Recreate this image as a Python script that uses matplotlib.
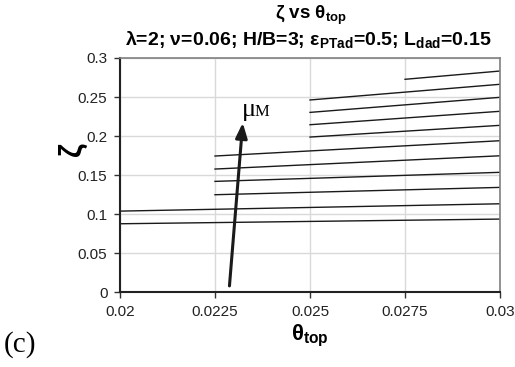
import matplotlib
matplotlib.use("Agg")
import matplotlib.pyplot as plt

# ----------------------------------------------------------------------
# DATA
# ----------------------------------------------------------------------
# each curve: theta_top start/end and zeta start/end
theta_start = [0.02, 0.02,
               0.0225, 0.0225, 0.0225, 0.0225,
               0.025, 0.025, 0.025, 0.025,
               0.0275]
theta_end = [0.03] * 11
zeta_start = [0.0876, 0.1038,
              0.1248, 0.1419, 0.1577, 0.1744,
              0.1987, 0.2145, 0.2303, 0.2462,
              0.2727]
zeta_end = [0.0936, 0.1132,
            0.1342, 0.1535, 0.1747, 0.1940,
            0.2137, 0.2317, 0.2496, 0.2663,
            0.2833]

x_ticks = [0.02, 0.0225, 0.025, 0.0275, 0.03]
x_tick_labels = ["0.02", "0.0225", "0.025", "0.0275", "0.03"]
y_ticks = [0, 0.05, 0.1, 0.15, 0.2, 0.25, 0.3]
y_tick_labels = ["0", "0.05", "0.1", "0.15", "0.2", "0.25", "0.3"]

# arrow showing increasing mu_M
arrow_tail = (0.02288, 0.008)
arrow_head = (0.02323, 0.217)

plt.rcParams["font.family"] = ["Liberation Sans", "DejaVu Sans"]
plt.rcParams["mathtext.fontset"] = "custom"
plt.rcParams["mathtext.rm"] = "Liberation Sans"
plt.rcParams["mathtext.bf"] = "Liberation Sans:bold"

fig = plt.figure(figsize=(5.15, 3.67), dpi=100)
ax = fig.add_axes([0.233, 0.204, 0.738, 0.638])

for xs, xe, ys, ye in zip(theta_start, theta_end, zeta_start, zeta_end):
    ax.plot([xs, xe], [ys, ye], color="#1a1a1a", lw=1.0)

ax.annotate("", xy=arrow_head, xytext=arrow_tail,
            arrowprops=dict(arrowstyle="-|>,head_width=0.35,head_length=0.9",
                            color="#1a1a1a", lw=2.2, shrinkA=0, shrinkB=0))
ax.text(0.02320, 0.2256, "μ", family="Liberation Serif", fontsize=19,
        va="baseline", ha="left")
ax.text(0.02355, 0.2256, "M", family="Liberation Serif", fontsize=12,
        va="baseline", ha="left")

ax.set_xlim(0.02, 0.03)
ax.set_ylim(0, 0.3)
ax.set_xticks(x_ticks)
ax.set_xticklabels(x_tick_labels)
ax.set_yticks(y_ticks)
ax.set_yticklabels(y_tick_labels)
ax.tick_params(labelsize=11, color="#333333", length=4, width=1,
               labelcolor="#222222", pad=5)
ax.grid(color="#d9d9d9", lw=1)
ax.set_axisbelow(True)

for side in ["top", "right"]:
    ax.spines[side].set_color("#808080")
    ax.spines[side].set_linewidth(1.2)
for side in ["left", "bottom"]:
    ax.spines[side].set_color("#222222")
    ax.spines[side].set_linewidth(1.5)

ax.set_xlabel(r"θ$_{\mathbf{top}}$", fontsize=16, fontweight="bold", labelpad=3)
fig.text(0.142, 0.594, "ζ", fontsize=22, fontweight="bold", rotation=90,
         ha="center", va="center")

fig.text(0.604, 0.959, r"ζ vs θ$_{\mathbf{top}}$", fontsize=13.5,
         fontweight="bold", ha="center", va="center")
fig.text(0.598, 0.891,
         r"λ=2; ν=0.06; H/B=3; ε$_{\mathbf{PTad}}$=0.5; L$_{\mathbf{dad}}$=0.15",
         fontsize=14, fontweight="bold", ha="center", va="center")

fig.text(0.008, 0.06, "(c)", family="Liberation Serif", fontsize=21,
         ha="left", va="center")

fig.savefig("out.png", dpi=100)
